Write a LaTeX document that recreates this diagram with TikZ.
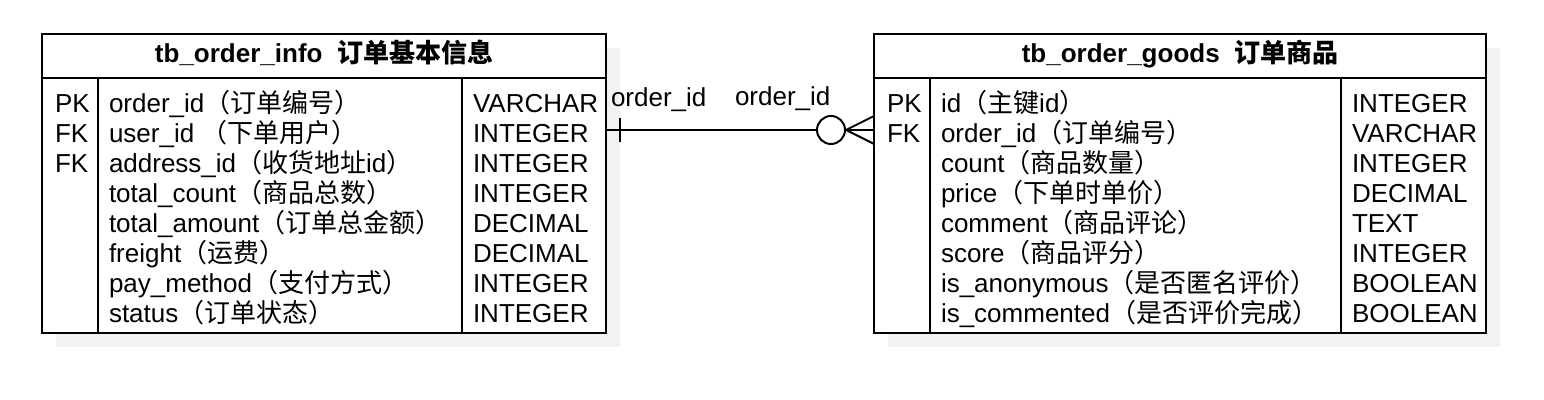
\documentclass[tikz,border=0pt]{standalone}
\usepackage{fontspec}
\setmainfont{Liberation Sans}
\newfontfamily\cjk{Noto Sans CJK SC}
\begin{document}
\begin{tikzpicture}[x=0.5pt, y=-0.5pt, line width=1pt,
    cell/.style={anchor=base west, inner sep=0pt, font=\fontsize{13}{15}\selectfont},
    head/.style={anchor=base, inner sep=0pt, font=\fontsize{13}{15}\selectfont\bfseries},
    shadow/.style={fill=black!5, draw=none},
    table/.style={fill=white, draw=black},
    one/.style={circle, draw=black, fill=white, minimum size=14pt, inner sep=0pt}]

        \useasboundingbox (0,0) rectangle (1544,400);

        % Define the corners of the two tables
        \coordinate (infoNW) at (42,34);
        \coordinate (infoSE) at (606,333);
        \coordinate (goodsNW) at (874,34);
        \coordinate (goodsSE) at (1486,333);

        % Shadows
        \draw[shadow] (56,48) rectangle (620,347);
        \draw[shadow] (888,48) rectangle (1500,347);

        % Table frames
        \draw[table] (infoNW) rectangle (infoSE);
        \draw (42,78) -- (606,78);
        \draw (98,78) -- (98,333);
        \draw (462,78) -- (462,333);

        \draw[table] (goodsNW) rectangle (goodsSE);
        \draw (874,78) -- (1486,78);
        \draw (930,78) -- (930,333);
        \draw (1341,78) -- (1341,333);

        % Headers
        \node[head] (infoHead) at (324,63) {tb\_order\_info\ \ {\cjk 订单基本信息}};
        \node[head] (goodsHead) at (1180,63) {tb\_order\_goods\ \ {\cjk 订单商品}};

        % Keys of tb_order_info
        \node[cell] (infoK1) at (54,113) {PK};
        \node[cell] (infoK2) at (54,143) {FK};
        \node[cell] (infoK3) at (54,173) {FK};

        % Fields of tb_order_info
        \node[cell] (infoF1) at (108,113) {order\_id{\cjk （订单编号）}};
        \node[cell] (infoF2) at (108,143) {user\_id {\cjk （下单用户）}};
        \node[cell] (infoF3) at (108,173) {address\_id{\cjk （收货地址}id{\cjk ）}};
        \node[cell] (infoF4) at (108,203) {total\_count{\cjk （商品总数）}};
        \node[cell] (infoF5) at (108,233) {total\_amount{\cjk （订单总金额）}};
        \node[cell] (infoF6) at (108,263) {freight{\cjk （运费）}};
        \node[cell] (infoF7) at (108,293) {pay\_method{\cjk （支付方式）}};
        \node[cell] (infoF8) at (108,323) {status{\cjk （订单状态）}};

        % Types of tb_order_info
        \node[cell] (infoT1) at (472,113) {VARCHAR};
        \node[cell] (infoT2) at (472,143) {INTEGER};
        \node[cell] (infoT3) at (472,173) {INTEGER};
        \node[cell] (infoT4) at (472,203) {INTEGER};
        \node[cell] (infoT5) at (472,233) {DECIMAL};
        \node[cell] (infoT6) at (472,263) {DECIMAL};
        \node[cell] (infoT7) at (472,293) {INTEGER};
        \node[cell] (infoT8) at (472,323) {INTEGER};

        % Keys of tb_order_goods
        \node[cell] (goodsK1) at (886,113) {PK};
        \node[cell] (goodsK2) at (886,143) {FK};

        % Fields of tb_order_goods
        \node[cell] (goodsF1) at (940,113) {id{\cjk （主键}id{\cjk ）}};
        \node[cell] (goodsF2) at (940,143) {order\_id{\cjk （订单编号）}};
        \node[cell] (goodsF3) at (940,173) {count{\cjk （商品数量）}};
        \node[cell] (goodsF4) at (940,203) {price{\cjk （下单时单价）}};
        \node[cell] (goodsF5) at (940,233) {comment{\cjk （商品评论）}};
        \node[cell] (goodsF6) at (940,263) {score{\cjk （商品评分）}};
        \node[cell] (goodsF7) at (940,293) {is\_anonymous{\cjk （是否匿名评价）}};
        \node[cell] (goodsF8) at (940,323) {is\_commented{\cjk （是否评价完成）}};

        % Types of tb_order_goods
        \node[cell] (goodsT1) at (1351,113) {INTEGER};
        \node[cell] (goodsT2) at (1351,143) {VARCHAR};
        \node[cell] (goodsT3) at (1351,173) {INTEGER};
        \node[cell] (goodsT4) at (1351,203) {DECIMAL};
        \node[cell] (goodsT5) at (1351,233) {TEXT};
        \node[cell] (goodsT6) at (1351,263) {INTEGER};
        \node[cell] (goodsT7) at (1351,293) {BOOLEAN};
        \node[cell] (goodsT8) at (1351,323) {BOOLEAN};

        % Relation between the tables
        \coordinate (relStart) at (606,130);
        \coordinate (tickTop) at (620,118);
        \coordinate (tickBot) at (620,142);
        \coordinate (footTop) at (874,116);
        \coordinate (footMid) at (874,130);
        \coordinate (footBot) at (874,144);

        \node[one] (zero) at (831,130) {};
        \draw (relStart) -- (zero.west);
        \draw (tickTop) -- (tickBot);
        \draw (footTop) -- (zero.east) -- (footBot);
        \draw (zero.east) -- (footMid);

        % Labels of the relation
        \node[cell] (relFrom) at (610,107) {order\_id};
        \node[cell] (relTo) at (734,106) {order\_id};

    \end{tikzpicture}
\end{document}
